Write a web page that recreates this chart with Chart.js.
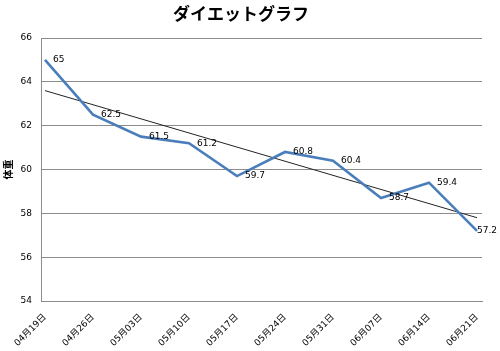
<!DOCTYPE html>
<html>
<head>
<meta charset="utf-8">
<script src="https://cdn.jsdelivr.net/npm/chart.js@4/dist/chart.umd.min.js"></script>
<style>
    html, body { margin: 0; padding: 0; background: #ffffff; }
    #wrap { width: 500px; height: 351px; position: relative; }
</style>
</head>
<body>
<div id="wrap"><canvas id="grafico"></canvas></div>
<script>
const datas = ["04月19日", "04月26日", "05月03日", "05月10日", "05月17日", "05月24日", "05月31日", "06月07日", "06月14日", "06月21日"];
const pesos = [65, 62.5, 61.5, 61.2, 59.7, 60.8, 60.4, 58.7, 59.4, 57.2];
// linha de tendencia: inicio e fim
const tendencia = [63.6, 57.8];

const fonteTicks = "'DejaVu Sans', 'Noto Sans CJK JP', sans-serif";

const pontosPeso = pesos.map((v, i) => ({ x: i, y: v }));
const pontosTendencia = [
    { x: 0, y: tendencia[0] },
    { x: datas.length - 1, y: tendencia[1] }
];

const rotulosDados = {
    id: "rotulosDados",
    afterDatasetsDraw(chart) {
        const ctx = chart.ctx;
        const meta = chart.getDatasetMeta(0);
        ctx.save();
        ctx.font = "9px " + fonteTicks;
        ctx.fillStyle = "#000000";
        ctx.textBaseline = "middle";
        ctx.textAlign = "left";
        meta.data.forEach((p, i) => {
            const texto = String(pesos[i]);
            const w = ctx.measureText(texto).width;
            let x = p.x + 8;
            if (x + w > 497) x = 497 - w;
            ctx.fillText(texto, x, p.y);
        });
        ctx.restore();
    }
};

new Chart(document.getElementById("grafico"), {
    type: "line",
    data: {
        datasets: [
            {
                label: "体重",
                data: pontosPeso,
                borderColor: "#4a7ebb",
                borderWidth: 2.6,
                pointRadius: 0,
                tension: 0,
                fill: false
            },
            {
                label: "線形近似",
                data: pontosTendencia,
                borderColor: "#222222",
                borderWidth: 1,
                pointRadius: 0,
                tension: 0,
                fill: false
            }
        ]
    },
    options: {
        responsive: true,
        maintainAspectRatio: false,
        animation: false,
        layout: { padding: { left: 0, right: 18, top: 0, bottom: 0 } },
        plugins: {
            legend: { display: false },
            tooltip: { enabled: false },
            title: {
                display: true,
                text: "ダイエットグラフ",
                color: "#000000",
                font: { family: "'Noto Sans CJK JP', sans-serif", size: 17, weight: "bold", lineHeight: 1.2 },
                padding: { top: 3, bottom: 14.6 }
            }
        },
        scales: {
            x: {
                type: "linear",
                min: -0.083,
                max: 9.104,
                grid: { display: false, drawTicks: false },
                border: { display: true, color: "#8c8c8c", width: 1 },
                ticks: {
                    stepSize: 1,
                    includeBounds: false,
                    autoSkip: false,
                    maxRotation: 45,
                    minRotation: 45,
                    padding: 11,
                    color: "#000000",
                    font: { family: fonteTicks, size: 9 },
                    callback: (v) => datas[v] !== undefined && Number.isInteger(v) ? datas[v] : ""
                },
                afterFit: (scale) => { scale.height = 50; }
            },
            y: {
                min: 54,
                max: 66,
                grid: { color: "#8c8c8c", lineWidth: 1, drawTicks: false },
                border: { display: true, color: "#8c8c8c", width: 1 },
                ticks: {
                    stepSize: 2,
                    padding: 9,
                    color: "#000000",
                    font: { family: fonteTicks, size: 9 }
                },
                title: {
                    display: true,
                    text: "体重",
                    color: "#000000",
                    font: { family: "'Noto Sans CJK JP', sans-serif", size: 10, weight: "bold" },
                    padding: { top: 2, bottom: 0 }
                },
                afterFit: (scale) => { scale.width = 41; }
            }
        }
    },
    plugins: [rotulosDados]
});
</script>
</body>
</html>
